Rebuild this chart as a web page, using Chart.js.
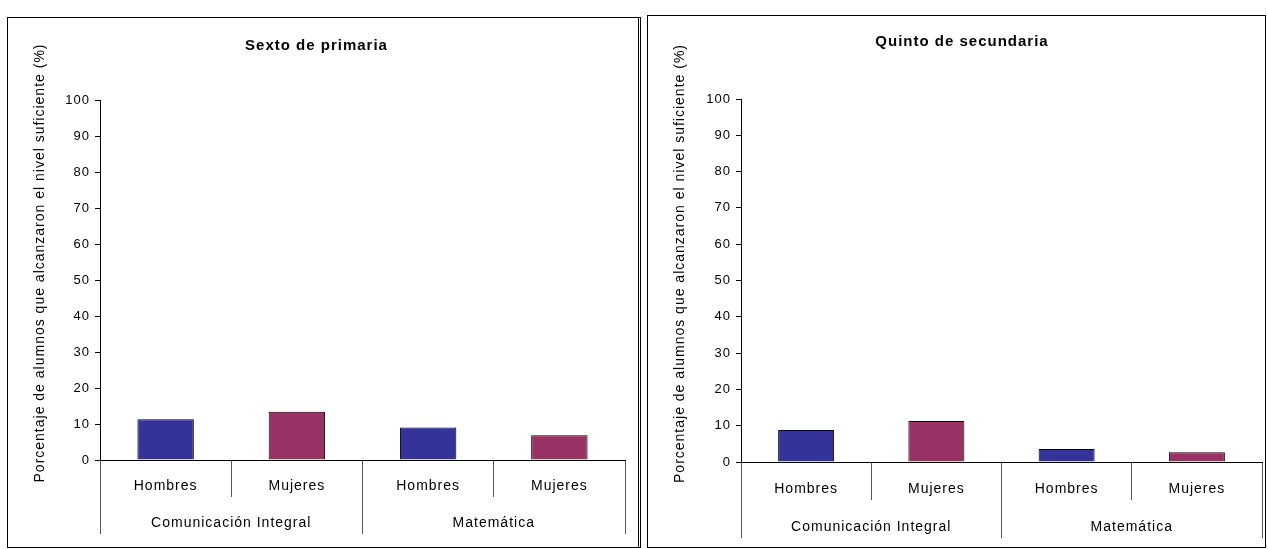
<!DOCTYPE html>
<html>
<head>
<meta charset="utf-8">
<script src="https://cdn.jsdelivr.net/npm/chart.js@4.4.1/dist/chart.umd.min.js"></script>
<style>
  body { margin: 0; background: #fff; width: 1268px; height: 549px; position: relative; overflow: hidden; }
  .caja { position: absolute; border: 1px solid #000; box-sizing: border-box; background: #fff; }
  .caja canvas { position: absolute; left: 0; top: 0; }
  #caja1 { left: 7px; top: 17px; width: 634px; height: 531px; border-right: 3px double #000; }
  #caja2 { left: 647px; top: 15px; width: 619px; height: 533px; }
</style>
</head>
<body>
<div class="caja" id="caja1"><canvas id="chart-sexto" width="629" height="529"></canvas></div>
<div class="caja" id="caja2"><canvas id="chart-quinto" width="617" height="531"></canvas></div>
<script>
// Datos ------------------------------------------------------------------------
const categorias = ["Hombres", "Mujeres", "Hombres", "Mujeres"];
const grupos = ["Comunicación Integral", "Matemática"];
const sextoPrimaria = [11.3, 13.4, 9.0, 6.9];
const quintoSecundaria = [8.8, 11.3, 3.6, 2.7];
const yMin = 0, yMax = 100, yPaso = 10;
const ejeY = "Porcentaje de alumnos que alcanzaron el nivel suficiente (%)";

const coloresBarras = ["#333399", "#993366", "#333399", "#993366"];
const fuente = "'Liberation Sans', Arial, sans-serif";

// Espaciado de letras (el original viene de Excel, texto mas abierto)
const espaciado = {
  id: "espaciado",
  beforeUpdate(chart) { chart.ctx.letterSpacing = "1px"; },
  beforeDraw(chart) { chart.ctx.letterSpacing = "1px"; },
};

// Titulo del eje Y, un poco por encima del centro del area como en el original
const tituloEjeY = {
  id: "tituloEjeY",
  afterDraw(chart, args, o) {
    const { ctx, chartArea } = chart;
    ctx.save();
    ctx.font = `14px ${fuente}`;
    ctx.fillStyle = "#000";
    ctx.textAlign = "center";
    ctx.textBaseline = "middle";
    ctx.translate(o.x, (chartArea.top + chartArea.bottom) / 2 - o.shift);
    ctx.rotate(-Math.PI / 2);
    ctx.fillText(ejeY, 0, 0);
    ctx.restore();
  }
};

// Fabrica de graficos ----------------------------------------------------------
function crearGrafico(id, titulo, valores, lay) {
  const ctx = document.getElementById(id).getContext("2d");
  return new Chart(ctx, {
    type: "bar",
    plugins: [espaciado, tituloEjeY],
    data: {
      labels: categorias,
      datasets: [{
        data: valores,
        backgroundColor: coloresBarras,
        borderColor: "#000",
        borderWidth: 1,
        categoryPercentage: 1,
        barPercentage: 0.43,
        xAxisID: "x",
      }]
    },
    options: {
      responsive: false,
      animation: false,
      layout: { padding: { left: lay.padL, right: lay.padR, top: 0, bottom: lay.padB } },
      plugins: {
        legend: { display: false },
        tooltip: { enabled: false },
        title: {
          display: true,
          text: titulo,
          color: "#000",
          font: { family: fuente, size: 15, weight: "bold" },
          padding: { top: lay.tTop, bottom: lay.tBottom },
        },
        tituloEjeY: { x: lay.yTitleX, shift: 17 },
      },
      scales: {
        y: {
          min: yMin, max: yMax,
          afterFit: s => { s.width = lay.yWidth; },
          ticks: { stepSize: yPaso, color: "#000", padding: 5, font: { family: fuente, size: 13 } },
          grid: { drawOnChartArea: false, tickLength: 5, color: "#000" },
          border: { color: "#000" },
        },
        x: {
          position: "bottom",
          afterFit: s => { s.height = lay.h1; },
          ticks: { color: "#000", padding: -19, font: { family: fuente, size: 14 } },
          grid: { offset: true, drawOnChartArea: false, tickLength: lay.h1, color: "#555" },
          border: { color: "#000" },
        },
        x2: {
          type: "category",
          labels: grupos,
          position: "bottom",
          afterFit: s => { s.height = lay.h2; },
          ticks: { color: "#000", padding: -19, font: { family: fuente, size: 14 } },
          grid: { offset: true, drawOnChartArea: false, tickLength: lay.h2, color: "#555" },
          border: { display: false },
        },
      },
    },
  });
}

document.addEventListener("DOMContentLoaded", () => {
  crearGrafico("chart-sexto", "Sexto de primaria", sextoPrimaria,
    { padL: 0, padR: 12, padB: 13, tTop: 19, tBottom: 45, yWidth: 92, yTitleX: 32, h1: 37, h2: 37 });
  crearGrafico("chart-quinto", "Quinto de secundaria", quintoSecundaria,
    { padL: 14, padR: 3, padB: 9, tTop: 17, tBottom: 48, yWidth: 79, yTitleX: 32, h1: 38, h2: 38 });
});
</script>
</body>
</html>
